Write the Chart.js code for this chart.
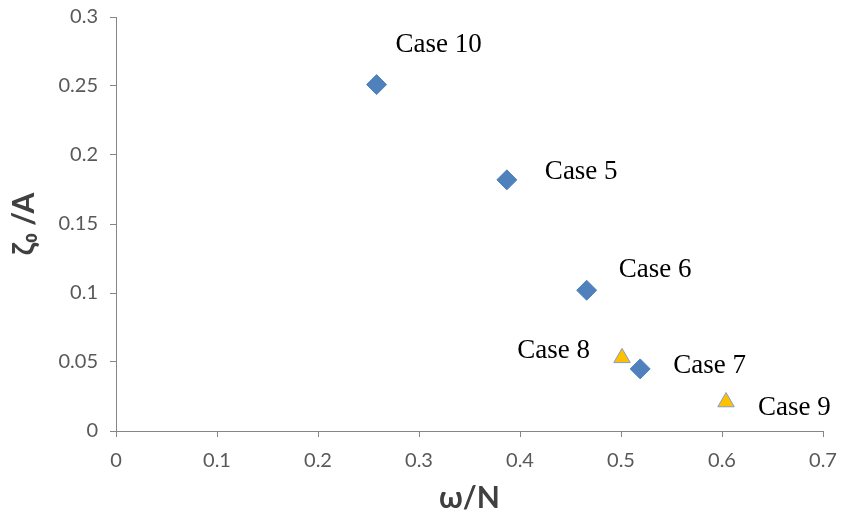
<!DOCTYPE html>
<html>
<head>
<meta charset="utf-8">
<script src="https://cdn.jsdelivr.net/npm/chart.js@4"></script>
<style>
  html, body { margin: 0; padding: 0; background: #fff; }
  #wrap { width: 842px; height: 520px; }
</style>
</head>
<body>
<div id="wrap"><canvas id="scatterChart"></canvas></div>
<script>
// diamonds (blue)
const diamondCases = ["Case 10", "Case 5", "Case 6", "Case 7"];
const diamondX = [0.258, 0.387, 0.466, 0.519];
const diamondY = [0.251, 0.182, 0.102, 0.045];

// triangles (orange)
const triangleCases = ["Case 8", "Case 9"];
const triangleX = [0.501, 0.604];
const triangleY = [0.053, 0.021];

const xTicks = [0, 0.1, 0.2, 0.3, 0.4, 0.5, 0.6, 0.7];
const yTicks = [0, 0.05, 0.1, 0.15, 0.2, 0.25, 0.3];

// where each case label sits relative to its marker
const labelOffsets = {
    "Case 10": { dx: 19, dy: -40, align: "left" },
    "Case 5": { dx: 38, dy: -8, align: "left" },
    "Case 6": { dx: 32, dy: -20, align: "left" },
    "Case 7": { dx: 33, dy: -3, align: "left" },
    "Case 8": { dx: -32, dy: -7, align: "right" },
    "Case 9": { dx: 32, dy: 6, align: "left" },
};

function toPoints(xs, ys) {
    return xs.map((x, i) => ({ x: x, y: ys[i] }));
}

const caseLabels = {
    id: "caseLabels",
    afterDatasetsDraw(chart) {
        const ctx = chart.ctx;
        const names = [diamondCases, triangleCases];
        ctx.save();
        ctx.font = "27px 'Liberation Serif', 'Times New Roman', serif";
        ctx.fillStyle = "#000";
        ctx.textBaseline = "middle";
        chart.data.datasets.forEach((ds, d) => {
            chart.getDatasetMeta(d).data.forEach((pt, i) => {
                const name = names[d][i];
                const off = labelOffsets[name];
                ctx.textAlign = off.align;
                ctx.fillText(name, pt.x + off.dx, pt.y + off.dy);
            });
        });
        ctx.restore();
    }
};

const axisGrey = "#868686";
const tickFont = { family: "Lato, 'Open Sans', sans-serif", size: 20 };
const titleFont = { family: "Lato, 'Open Sans', sans-serif", size: 30, weight: "bold" };

new Chart(document.getElementById("scatterChart"), {
    type: "scatter",
    data: {
        datasets: [
            {
                label: "diamonds",
                data: toPoints(diamondX, diamondY),
                pointStyle: "rectRot",
                pointRadius: 10,
                pointHoverRadius: 10,
                backgroundColor: "#4F81BD",
                borderColor: "#4F81BD",
                borderWidth: 1,
            },
            {
                label: "triangles",
                data: toPoints(triangleX, triangleY),
                pointStyle: "triangle",
                pointRadius: 9.5,
                pointHoverRadius: 9.5,
                backgroundColor: "#FFC000",
                borderColor: "#7F9FC8",
                borderWidth: 1,
            },
        ],
    },
    options: {
        responsive: true,
        maintainAspectRatio: false,
        animation: false,
        events: [],
        layout: { padding: { top: 17, right: 19, left: 2, bottom: 0 } },
        plugins: {
            legend: { display: false },
            tooltip: { enabled: false },
        },
        scales: {
            x: {
                type: "linear",
                min: 0,
                max: 0.7,
                afterBuildTicks: (axis) => { axis.ticks = xTicks.map(v => ({ value: v })); },
                afterFit: (axis) => {
                    axis.height = 89;
                    axis.paddingLeft = 0;
                    axis.paddingRight = 0;
                },
                grid: { drawOnChartArea: false, drawTicks: true, tickLength: 6, color: axisGrey },
                border: { color: axisGrey },
                ticks: {
                    color: "#595959", font: tickFont, padding: 12, maxRotation: 0,
                    callback: (v) => String(v),
                },
                title: {
                    display: true,
                    text: "ω/N",
                    color: "#404040",
                    font: titleFont,
                    padding: { top: 4 },
                },
            },
            y: {
                type: "linear",
                min: 0,
                max: 0.3,
                afterBuildTicks: (axis) => { axis.ticks = yTicks.map(v => ({ value: v })); },
                afterFit: (axis) => {
                    axis.width = 114;
                    axis.paddingTop = 0;
                    axis.paddingBottom = 0;
                },
                grid: { drawOnChartArea: false, drawTicks: true, tickLength: 6, color: axisGrey },
                border: { color: axisGrey },
                ticks: {
                    color: "#595959", font: tickFont, padding: 12,
                    callback: (v) => String(v),
                },
                title: {
                    display: true,
                    text: "ζ₀ /A",
                    color: "#404040",
                    font: titleFont,
                    padding: { bottom: 0 },
                },
            },
        },
    },
    plugins: [caseLabels],
});
</script>
</body>
</html>
